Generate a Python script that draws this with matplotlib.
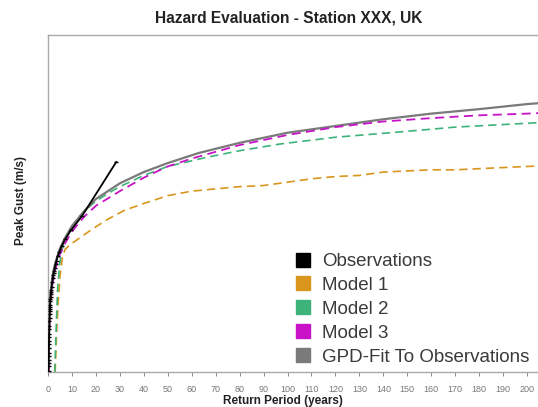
import matplotlib
matplotlib.use("Agg")
import matplotlib.pyplot as plt
from matplotlib.lines import Line2D

plt.rcParams['font.family'] = ['Liberation Sans', 'DejaVu Sans']

# Observations (return period in years, peak gust m/s)
obs_T = [28.5, 14.25, 9.5, 7.13, 5.7, 4.75, 4.07, 3.56, 3.17, 2.85, 2.59, 2.38, 2.19, 2.04,
         1.78, 1.58, 1.43, 1.3, 1.19, 1.1, 1.02, 0.95, 0.89, 0.84, 0.79, 0.75, 0.71, 0.65,
         0.6, 0.56, 0.52, 0.48, 0.45, 0.42, 0.39, 0.36, 0.33, 0.31, 0.29, 0.27, 0.25, 0.23]
obs_v = [38.7, 33.9, 32.6, 31.8, 31.2, 30.7, 30.3, 29.9, 29.6, 29.3, 29.0, 28.8, 28.6, 28.4,
         28.0, 27.6, 27.3, 27.1, 26.9, 26.7, 26.5, 26.3, 26.0, 25.8, 25.6, 25.4, 25.2, 24.8,
         24.5, 24.1, 23.8, 23.4, 23.1, 22.8, 22.5, 22.1, 21.7, 21.4, 21.1, 20.8, 20.5, 20.1]

# Model 1
m1_T = [3.0, 3.5, 4.2, 5.0, 6.0, 7.1, 9, 12, 15, 19, 25, 32, 40, 50, 60, 70, 80, 90, 100,
        110, 120, 130, 140, 150, 160, 170, 180, 190, 200, 215]
m1_v = [20.0, 23.0, 26.0, 28.5, 30.2, 30.9, 31.3, 31.75, 32.2, 32.8, 33.6, 34.4, 35.0,
        35.7, 36.1, 36.3, 36.5, 36.6, 36.9, 37.2, 37.4, 37.5, 37.8, 37.9, 38.0, 38.0, 38.1,
        38.2, 38.3, 38.4]

# Model 2
m2_T = [2.8, 3.2, 3.6, 4.0, 4.8, 5.8, 8, 12, 16, 20, 25, 30, 40, 50, 66, 80, 97, 120, 143,
        170, 205, 215]
m2_v = [20.0, 22.5, 25.0, 27.3, 29.5, 30.9, 32.2, 33.6, 34.5, 35.2, 35.9, 36.5, 37.5, 38.3,
        39.1, 39.7, 40.3, 40.9, 41.3, 41.8, 42.2, 42.3]

# Model 3
m3_T = [0.25, 0.4, 0.6, 1, 1.5, 2, 3, 5, 7, 10, 15, 20, 30, 40, 50, 60, 80, 100, 120, 140,
        160, 180, 200, 215]
m3_v = [20.0, 22.5, 24.2, 26.0, 27.2, 28.0, 29.1, 30.5, 31.4, 32.5, 33.8, 34.8, 36.1, 37.3,
        38.3, 39.0, 40.2, 41.1, 41.8, 42.3, 42.6, 42.85, 43.0, 43.15]

# GPD fit to observations
gpd_T = [0.22, 0.3, 0.4, 0.5, 0.7, 1, 1.5, 2, 3, 5, 7, 10, 15, 20, 30, 40, 50, 63, 80, 100,
         120, 140, 160, 180, 200, 215]
gpd_v = [20.0, 21.8, 23.1, 24.2, 25.6, 26.8, 27.9, 28.7, 29.7, 31.0, 31.9, 33.0, 34.3, 35.4,
         36.8, 37.8, 38.6, 39.5, 40.4, 41.3, 41.9, 42.5, 43.0, 43.4, 43.85, 44.1]

x_ticks = list(range(0, 201, 10))

c_obs = 'black'
c_m1 = '#D9951C'
c_m2 = '#3DB37A'
c_m3 = '#C812C8'
c_gpd = '#7A7A7A'

fig = plt.figure(figsize=(5.38, 4.07), dpi=100)
ax = fig.add_axes([48 / 538, 35 / 407, (551 - 48) / 538, 337 / 407])

ax.plot(m1_T, m1_v, color=c_m1, lw=1.2, ls=(0, (5, 3)))
ax.plot(m2_T, m2_v, color=c_m2, lw=1.2, ls=(0, (5, 3)))
ax.plot(gpd_T, gpd_v, color=c_gpd, lw=1.6)
ax.plot(m3_T, m3_v, color=c_m3, lw=1.3, ls=(0, (5, 3)))
ax.plot(obs_T, obs_v, color=c_obs, lw=1.3, marker='_', ms=3, mew=1.0, zorder=5)

ax.set_xlim(0, 210)
ax.set_ylim(20, 50)
ax.set_xticks(x_ticks)
ax.set_yticks([])
ax.tick_params(axis='x', labelsize=6.5, colors='#777777', length=3, width=0.6, pad=6)
for s in ['left', 'bottom', 'top']:
    ax.spines[s].set_color('#aaaaaa')
    ax.spines[s].set_linewidth(1.0)
ax.spines['right'].set_visible(False)

fig.text(289 / 538, 1 - 18 / 407, 'Hazard Evaluation - Station XXX, UK',
         ha='center', va='center', fontsize=11.2, fontweight='bold', color='#222222')
fig.text(283 / 538, 1 - 401 / 407, 'Return Period (years)',
         ha='center', va='center', fontsize=8.5, fontweight='bold', color='#222222')
fig.text(21 / 538, 1 - 200 / 407, 'Peak Gust (m/s)', rotation=90,
         ha='center', va='center', fontsize=8.5, fontweight='bold', color='#222222')

labels = ['Observations', 'Model 1', 'Model 2', 'Model 3', 'GPD-Fit To Observations']
colors = [c_obs, c_m1, c_m2, c_m3, c_gpd]
handles = [Line2D([], [], ls='none', marker='s', ms=10, color=c, mec=c) for c in colors]
fig.legend(handles, labels, loc='upper left', bbox_to_anchor=(294 / 538, 1 - 253 / 407),
           frameon=False, fontsize=13.5, handletextpad=0.5, labelspacing=0.36,
           borderaxespad=0, borderpad=0, labelcolor='#3a3a3a', handlelength=1.0)

fig.savefig('out.png', dpi=100)
